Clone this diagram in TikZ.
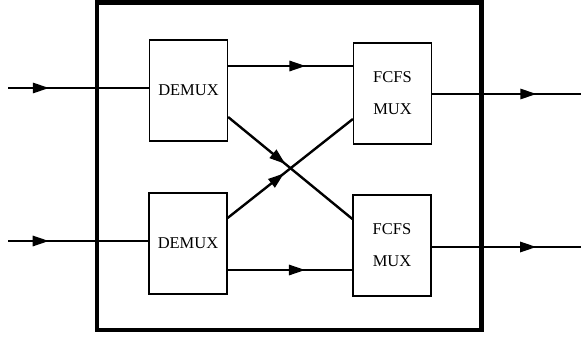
\documentclass[tikz,border=0pt]{standalone}
\usepackage{fontspec}
\setmainfont{Liberation Serif}
\usetikzlibrary{positioning,arrows.meta,calc,decorations.markings}
\tikzset{
  block/.style={draw,line width=1.2pt,minimum width=78pt,minimum height=101pt,inner sep=1pt,align=center,font=\fontsize{16.5}{32}\selectfont},
  thinline/.style={draw,line width=1.4pt},
  crossline/.style={draw,line width=2.4pt},
  midarrow/.style={postaction={decorate},decoration={markings,mark=at position #1 with {\arrow{Triangle[length=16pt,width=10.5pt]}}}},
}

\begin{document}
\begin{tikzpicture}[x=1pt,y=-1pt]
\useasboundingbox (0,0) rectangle (581,345);

% switch frame
\draw[line width=4.5pt] (97,2.5) rectangle (481.5,330);

\node[block] (demA) at (188.5,90.5) {DEMUX};
\node[block] (demB) at (188,243.5) {DEMUX};
\node[block] (muxA) at (392.5,93.5) {FCFS\\MUX};
\node[block] (muxB) at (392,245.5) {FCFS\\MUX};

\coordinate (inA) at (8,88);
\coordinate (inB) at (8,241);
\coordinate (outA) at (581,94);
\coordinate (outB) at (581,247);

\path
(inA) edge[thinline,midarrow=0.29] (inA -| demA.west)
(inB) edge[thinline,midarrow=0.29] (inB -| demB.west)
($(demA.east)+(0,-24.5)$) edge[thinline,midarrow=0.62] ($(demA.east -| muxA.west)+(0,-24.5)$)
($(demB.east)+(0,26.5)$) edge[thinline,midarrow=0.62] ($(demB.east -| muxB.west)+(0,26.5)$)
($(demA.east)+(0,26.5)$) edge[crossline,midarrow=0.46] ($(muxB.west)+(0,-26.5)$)
($(demB.east)+(0,-25.5)$) edge[crossline,midarrow=0.45] ($(muxA.west)+(0,25.5)$)
(outA -| muxA.east) edge[thinline,midarrow=0.7] (outA)
(outB -| muxB.east) edge[thinline,midarrow=0.7] (outB);

\end{tikzpicture}
\end{document}
